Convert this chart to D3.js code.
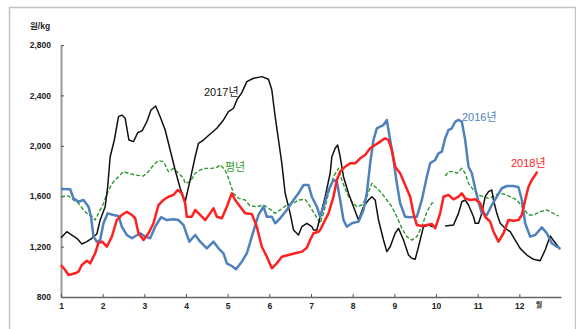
<!DOCTYPE html>
<html>
<head>
<meta charset="utf-8">
<script src="https://cdn.jsdelivr.net/npm/d3@7"></script>
<style>
  body { margin: 0; background: #fff; }
  svg text { font-family: "Liberation Sans", "Noto Sans CJK KR", sans-serif; }
</style>
</head>
<body>
<div id="chart"></div>
<script>
// month position (1 = start of Jan) and price (원/kg), null = no quote
var x2016 = [1.00,1.22,1.30,1.42,1.54,1.66,1.72,1.78,1.86,1.94,2.02,2.12,2.26,2.38,2.46,2.58,2.70,2.90,3.02,3.14,3.26,3.40,3.54,3.70,3.82,3.94,3.98,4.08,4.22,4.34,4.50,4.66,4.78,4.90,4.98,5.10,5.20,5.34,5.46,5.58,5.74,5.86,5.94,6.06,6.14,6.26,6.42,6.58,6.70,6.82,6.94,7.02,7.14,7.22,7.30,7.42,7.54,7.62,7.70,7.78,7.86,7.98,8.14,8.26,8.34,8.42,8.50,8.58,8.66,8.74,8.82,8.90,8.98,9.06,9.14,9.26,9.38,9.54,9.66,9.78,9.86,9.98,10.06,10.14,10.22,10.30,10.38,10.46,10.54,10.62,10.70,10.78,10.86,10.94,11.02,11.10,11.22,11.34,11.46,11.58,11.70,11.86,11.98,12.06,12.14,12.26,12.38,12.54,12.66,12.78,12.90,12.98];
var y2016 = [1657,1655,1583,1556,1570,1517,1437,1279,1239,1252,1385,1464,1451,1443,1358,1292,1266,1306,1279,1266,1358,1433,1411,1417,1411,1371,1332,1239,1292,1239,1186,1239,1186,1147,1067,1046,1020,1080,1147,1279,1451,1517,1437,1437,1385,1425,1491,1570,1623,1689,1689,1596,1517,1437,1517,1649,1729,1715,1570,1411,1358,1385,1398,1491,1623,1861,2046,2139,2152,2165,2205,2046,1888,1702,1544,1437,1433,1437,1570,1755,1861,1888,1940,1953,2060,2125,2139,2191,2205,2191,2046,1834,1782,1663,1556,1464,1451,1530,1596,1663,1681,1681,1671,1570,1385,1279,1292,1353,1306,1226,1199,1186];

var x2017 = [1.00,1.14,1.26,1.38,1.50,1.62,1.74,1.86,1.94,2.06,2.12,2.18,2.28,2.38,2.46,2.54,2.63,2.74,2.84,2.95,3.06,3.16,3.27,3.38,3.50,3.62,3.74,3.86,3.98,4.10,4.22,4.30,4.42,4.58,4.74,4.90,5.02,5.14,5.22,5.34,5.46,5.62,5.82,5.98,6.06,6.14,6.22,6.30,6.38,6.50,6.58,6.70,6.78,6.90,7.02,7.06,7.14,7.22,7.34,7.46,7.50,7.58,7.64,7.70,7.78,7.90,8.02,8.14,8.26,8.38,8.46,8.54,8.62,8.74,8.82,8.90,9.02,9.10,9.22,9.34,9.42,9.50,9.58,9.70,9.82,9.94,10.08,10.22,10.42,10.54,10.62,10.70,10.78,10.90,10.94,11.02,11.10,11.18,11.26,11.34,11.38,11.46,11.54,11.66,11.78,11.90,12.02,12.18,12.34,12.50,12.62,12.74,12.86,12.98];
var y2017 = [1270,1318,1292,1266,1221,1239,1266,1300,1411,1517,1675,1913,2046,2231,2244,2218,2046,2033,2104,2120,2191,2284,2316,2231,2125,1967,1808,1663,1556,1729,1913,2020,2046,2094,2139,2205,2271,2298,2364,2422,2509,2536,2549,2528,2443,2231,2046,1861,1623,1464,1332,1292,1358,1385,1358,1332,1332,1437,1596,1782,1913,1980,2006,1913,1755,1623,1517,1411,1517,1570,1596,1570,1411,1252,1160,1199,1306,1345,1252,1133,1107,1099,1199,1358,1371,1358,null,1363,1371,1464,1556,1570,1530,1437,1385,1385,1464,1596,1636,1649,1570,1464,1385,1345,1318,1252,1186,1133,1099,1088,1173,1284,1231,1178];

var x2018 = [1.00,1.10,1.18,1.34,1.42,1.50,1.62,1.70,1.82,1.90,1.99,2.10,2.22,2.34,2.46,2.58,2.70,2.78,2.86,2.98,3.10,3.22,3.34,3.46,3.58,3.70,3.80,3.90,3.98,4.02,4.14,4.22,4.34,4.46,4.58,4.66,4.74,4.86,4.98,5.10,5.18,5.30,5.42,5.58,5.70,5.82,5.94,6.06,6.18,6.30,6.46,6.62,6.78,6.90,6.98,7.06,7.18,7.22,7.30,7.42,7.54,7.62,7.70,7.82,7.94,8.06,8.18,8.30,8.42,8.54,8.66,8.78,8.86,8.94,9.02,9.14,9.26,9.38,9.46,9.54,9.66,9.78,9.90,9.98,10.10,10.18,10.30,10.42,10.54,10.62,10.70,10.82,10.94,11.06,11.18,11.30,11.38,11.50,11.62,11.74,11.86,11.98,12.06,12.14,12.22,12.30,12.38,12.43];
var y2018 = [1054,1014,975,988,1001,1054,1088,1067,1147,1231,1239,1199,1279,1411,1451,1477,1451,1425,1306,1252,1306,1385,1530,1570,1596,1610,1649,1623,1544,1437,1437,1491,1451,1411,1464,1504,1437,1425,1517,1623,1570,1517,1464,1459,1358,1199,1120,1028,1067,1120,1133,1147,1160,1190,1252,1306,1318,1332,1385,1464,1596,1729,1795,1834,1861,1861,1901,1927,1980,2006,2033,2060,2046,1967,1834,1782,1689,1596,1464,1371,1363,1371,1379,1345,1464,1596,1610,1575,1596,1623,1583,1570,1575,1544,1437,1398,1318,1239,1306,1411,1406,1411,1451,1570,1675,1729,1768,1795];

var xNormal = [1.00,1.18,1.30,1.42,1.54,1.66,1.74,1.82,1.90,2.02,2.14,2.26,2.38,2.50,2.62,2.78,2.98,3.10,3.22,3.34,3.46,3.58,3.70,3.82,3.94,3.98,4.10,4.22,4.34,4.46,4.62,4.74,4.82,4.90,4.98,5.06,5.14,5.26,5.42,5.54,5.70,5.86,6.02,6.14,6.26,6.42,6.58,6.70,6.86,6.98,7.10,7.22,7.30,7.42,7.54,7.66,7.74,7.86,7.98,8.10,8.22,8.34,8.46,8.58,8.70,8.82,8.94,9.06,9.18,9.30,9.42,9.54,9.66,9.78,9.90,9.98,10.10,10.22,10.30,10.42,10.50,10.62,10.70,10.78,10.90,11.02,11.14,11.26,11.38,11.50,11.62,11.78,11.94,12.10,12.22,12.34,12.50,12.66,12.78,12.94];
var yNormal = [1596,1602,1570,1544,1491,1451,1443,1411,1464,1544,1649,1715,1755,1795,1782,1768,1760,1795,1848,1882,1874,1795,1821,1782,1742,1702,1715,1782,1808,1821,1821,1829,1848,1821,1782,1702,1623,1583,1570,1522,1517,1530,1496,1464,1491,1530,1544,1570,1575,1517,1451,1385,1464,1623,1755,1821,1729,1623,1556,1517,1530,1596,1702,1663,1623,1570,1517,1437,1345,1279,1252,1279,1358,1477,1544,1556,null,1760,1795,1795,1782,1821,1782,1702,1649,1610,1596,1583,1596,1623,1618,1596,1570,1504,1451,1451,1477,1491,1469,1443];

var yTicks = [800, 1200, 1600, 2000, 2400, 2800];
var monthTicks = [1,2,3,4,5,6,7,8,9,10,11,12];

var width = 576, height = 329;

var svg = d3.select("#chart")
    .append("svg")
    .attr("width", width)
    .attr("height", height);

// outer frame
svg.append("rect")
    .attr("x", 9.5).attr("y", 7.5)
    .attr("width", 566).attr("height", 340)
    .attr("fill", "none")
    .attr("stroke", "#c4c4c4")
    .attr("stroke-width", 1.5);

var x = d3.scaleLinear().domain([1, 13]).range([61, 561]);
var y = d3.scaleLinear().domain([800, 2800]).range([297, 45]);

var yAxis = svg.append("g")
    .attr("transform", "translate(61,0)")
    .call(d3.axisLeft(y).tickValues(yTicks).tickFormat(d3.format(","))
        .tickSizeInner(-3).tickSizeOuter(0).tickPadding(10));
yAxis.select(".domain").attr("stroke", "#9a9a9a").attr("stroke-width", 2);
yAxis.selectAll(".tick line").attr("stroke", "#555");
yAxis.selectAll("text").attr("font-size", 8.5).attr("font-weight", "bold").attr("fill", "#222");

var xAxis = svg.append("g")
    .attr("transform", "translate(0,297)")
    .call(d3.axisBottom(x).tickValues(monthTicks).tickFormat(d3.format("d"))
        .tickSizeInner(-3).tickSizeOuter(0).tickPadding(6));
xAxis.select(".domain").attr("stroke", "#666").attr("stroke-width", 1.3);
xAxis.selectAll(".tick line").attr("stroke", "#555");
xAxis.selectAll("text").attr("font-size", 8.5).attr("font-weight", "bold").attr("fill", "#222");

svg.append("text")
    .attr("x", 30).attr("y", 29)
    .attr("font-size", 8.5).attr("font-weight", "bold").attr("fill", "#222")
    .text("원/kg");

svg.append("text")
    .attr("x", 539).attr("y", 307)
    .attr("text-anchor", "middle")
    .attr("font-size", 7).attr("font-weight", "bold").attr("fill", "#222")
    .text("월");

function drawSeries(xs, ys, color, w, dash) {
    var pts = xs.map(function(d, i) { return [d, ys[i]]; });
    var line = d3.line()
        .defined(function(d) { return d[1] !== null; })
        .x(function(d) { return x(d[0]); })
        .y(function(d) { return y(d[1]); });
    svg.append("path")
        .datum(pts)
        .attr("fill", "none")
        .attr("stroke", color)
        .attr("stroke-width", w)
        .attr("stroke-linejoin", "round")
        .attr("stroke-dasharray", dash)
        .attr("d", line);
}

drawSeries(xNormal, yNormal, "#2f9a2f", 1.4, "4,2");
drawSeries(x2017, y2017, "#111111", 1.5, null);
drawSeries(x2016, y2016, "#4f81bd", 2.5, null);
drawSeries(x2018, y2018, "#ff2020", 2.5, null);

var labels = [
    {t: "2017년", x: 204, y: 96, c: "#111"},
    {t: "평년", x: 225, y: 171, c: "#2f9a2f"},
    {t: "2016년", x: 462, y: 121, c: "#4f81bd"},
    {t: "2018년", x: 511, y: 167, c: "#ff2020"}
];
svg.selectAll(".lbl")
    .data(labels)
    .enter()
    .append("text")
    .attr("class", "lbl")
    .attr("x", function(d) { return d.x; })
    .attr("y", function(d) { return d.y; })
    .attr("font-size", 11)
    .attr("fill", function(d) { return d.c; })
    .text(function(d) { return d.t; });
</script>
</body>
</html>
